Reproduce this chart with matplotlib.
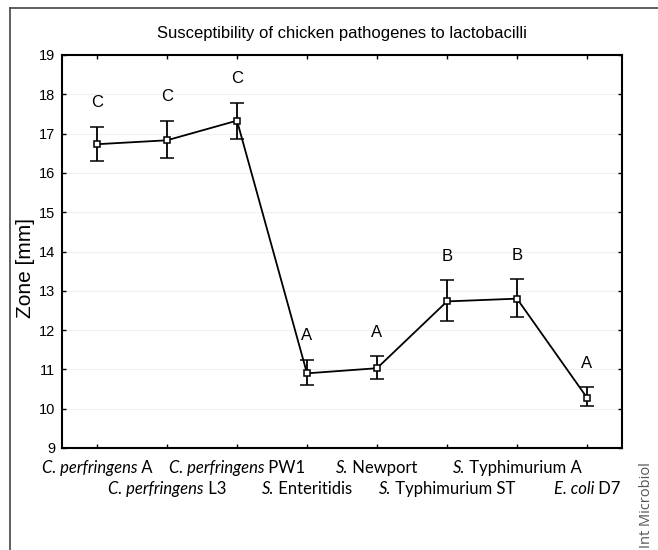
import matplotlib
matplotlib.use("Agg")
from matplotlib import pyplot as plt
from matplotlib.lines import Line2D
from matplotlib.transforms import offset_copy

# chart data
species = ["C. perfringens", "C. perfringens", "C. perfringens", "S.",
           "S.", "S.", "S.", "E. coli"]
strains = ["A", "L3", "PW1", "Enteritidis", "Newport", "Typhimurium ST",
           "Typhimurium A", "D7"]
zone_mean = [16.73, 16.83, 17.33, 10.90, 11.03, 12.73, 12.80, 10.28]
err_low = [16.30, 16.37, 16.87, 10.60, 10.75, 12.23, 12.33, 10.07]
err_high = [17.18, 17.33, 17.78, 11.25, 11.33, 13.27, 13.30, 10.55]
groups = ["C", "C", "C", "A", "A", "B", "B", "A"]
yticks = [9, 10, 11, 12, 13, 14, 15, 16, 17, 18, 19]

fig = plt.figure(figsize=(6.58, 5.5), dpi=100)
W, H = 658.0, 550.0
ax = fig.add_axes([62 / W, 1 - 448 / H, (622 - 62) / W, (448 - 55) / H])

x = list(range(1, len(species) + 1))
yerr = [[m - lo for m, lo in zip(zone_mean, err_low)],
        [hi - m for m, hi in zip(zone_mean, err_high)]]

for t in yticks:
    ax.axhline(t, color='#f0f0f0', lw=0.8, zorder=0)

ax.errorbar(x, zone_mean, yerr=yerr, color='black', lw=1.3, elinewidth=1.3,
            capsize=5, capthick=1.3, marker='s', markersize=5,
            markerfacecolor='white', markeredgecolor='black', markeredgewidth=1.1)

for xi, hi, g in zip(x, err_high, groups):
    ax.text(xi, hi + 0.42, g, ha='center', va='bottom', fontsize=12,
            family='Liberation Sans')

ax.set_xlim(0.5, 8.5)
ax.set_ylim(9, 19)
ax.set_yticks(yticks)
ax.set_xticks(x)
ax.set_xticklabels([])
ax.tick_params(direction='in', length=3, width=1, top=True, right=True,
               labelsize=10.5, pad=5)
for lab in ax.get_yticklabels():
    lab.set_family('Liberation Sans')
for s in ax.spines.values():
    s.set_linewidth(1.5)

ax.set_title("Susceptibility of chicken pathogenes to lactobacilli",
             family='Liberation Sans', fontsize=12, pad=12)
ax.set_ylabel("Zone [mm]", family='Liberation Sans', fontsize=15)
ax.yaxis.set_label_coords(-0.048, 0.458)

# category labels: italic species + upright strain, centred on the tick
trans = ax.get_xaxis_transform()
pairs = []
for i, (xi, sp, st) in enumerate(zip(x, species, strains)):
    off = -0.064 if i % 2 == 0 else -0.116
    t1 = ax.text(xi, off, sp, transform=trans, ha='left', va='baseline',
                 fontsize=12, family='Lato', style='italic')
    t2 = ax.text(xi, off, " " + st, transform=trans, ha='left', va='baseline',
                 fontsize=12, family='Lato')
    pairs.append((t1, t2))

fig.canvas.draw()
renderer = fig.canvas.get_renderer()
for t1, t2 in pairs:
    w1 = t1.get_window_extent(renderer).width
    w2 = t2.get_window_extent(renderer).width
    total = w1 + w2
    t1.set_transform(offset_copy(trans, fig, x=-total / 2, units='dots'))
    t2.set_transform(offset_copy(trans, fig, x=-total / 2 + w1, units='dots'))

# outer frame (left and top edge only)
fig.add_artist(Line2D([10 / W, 10 / W], [0, 1 - 8 / H], color='#444444', lw=1.2))
fig.add_artist(Line2D([10 / W, 1], [1 - 8 / H, 1 - 8 / H], color='#444444', lw=1.2))

fig.text(647 / W, 1 - 505 / H, "Int Microbiol", rotation=90, ha='center',
         va='center', fontsize=10.5, color='#555555', family='Open Sans')

fig.savefig("out.png", dpi=100)
